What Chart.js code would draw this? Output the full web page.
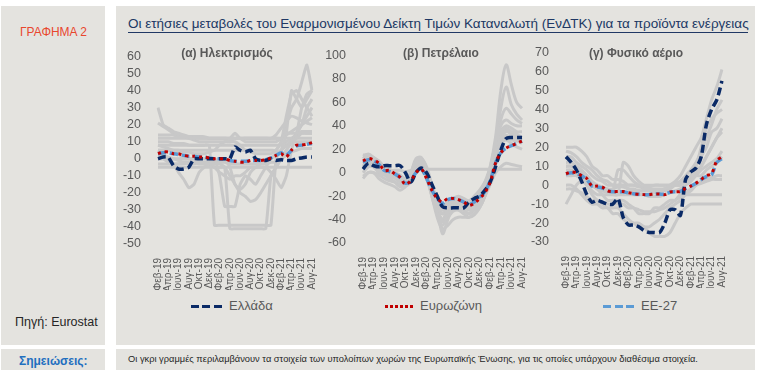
<!DOCTYPE html>
<html lang="el">
<head>
<meta charset="UTF-8" />
<title>ΓΡΑΦΗΜΑ 2</title>
<script src="https://cdn.jsdelivr.net/npm/chart.js"></script>
<style>
  body { margin: 0; background: #fff; font-family: "Liberation Sans", Arial, sans-serif; width: 760px; height: 370px; position: relative; overflow: hidden; }
  .box { position: absolute; background: #e4e3df; }
  .abs { position: absolute; white-space: nowrap; }
  canvas { position: absolute; }
  .sub { position: absolute; font-size: 12px; color: #595959; font-weight: bold; transform: translateX(-50%); white-space: nowrap; }
  .leg { position: absolute; font-size: 13px; color: #595959; white-space: nowrap; }
  .leg span { display: inline-block; vertical-align: middle; margin-right: 7px; }
</style>
</head>
<body>
  <div class="box" style="left:1px; top:6px; width:104px; height:339px;"></div>
  <div class="box" style="left:116px; top:6px; width:639px; height:339px;"></div>
  <div class="box" style="left:1px; top:349px; width:104px; height:21px;"></div>
  <div class="box" style="left:116px; top:349px; width:639px; height:21px;"></div>

  <div class="abs" style="left:20px; top:25px; font-size:12px; color:#e8472e;">ΓΡΑΦΗΜΑ 2</div>
  <div class="abs" style="left:15px; top:315px; font-size:12.5px; color:#262626;">Πηγή: Eurostat</div>
  <div class="abs" style="left:19px; top:354px; font-size:12px; font-weight:bold; color:#1f6fbf;">Σημειώσεις:</div>
  <div class="abs" style="left:128px; top:354px; font-size:9.3px; color:#262626;">Οι γκρι γραμμές  περιλαμβάνουν  τα στοιχεία των υπολοίπων  χωρών της Ευρωπαϊκής  Ένωσης, για τις οποίες υπάρχουν  διαθέσιμα στοιχεία.</div>

  <div class="abs" style="left:128px; top:16px; font-size:13.5px; color:#203864;">Οι ετήσιες μεταβολές του Εναρμονισμένου Δείκτη Τιμών  Καταναλωτή (ΕνΔΤΚ) για τα προϊόντα ενέργειας</div>
  <div class="abs" style="left:128px; top:32px; width:620px; height:1px; background:#203864;"></div>

  <canvas id="c1" width="210" height="250" style="left:120px; top:40px;"></canvas>
  <canvas id="c2" width="215" height="250" style="left:325px; top:39px;"></canvas>
  <canvas id="c3" width="212" height="252" style="left:528px; top:36px;"></canvas>

  <div class="sub" style="left:227px; top:46px;">(α) Ηλεκτρισμός</div>
  <div class="sub" style="left:441px; top:46px;">(β) Πετρέλαιο</div>
  <div class="sub" style="left:636px; top:46px;">(γ) Φυσικό αέριο</div>

  <div class="leg" style="left:191px; top:298px;"><span style="width:31px; height:3.5px; background:repeating-linear-gradient(90deg,#0a2a66 0 8px,transparent 8px 11.5px);"></span>Ελλάδα</div>
  <div class="leg" style="left:385px; top:298px;"><span style="width:28px; height:3px; background:repeating-linear-gradient(90deg,#c00000 0 3px,transparent 3px 5px);"></span>Ευρωζώνη</div>
  <div class="leg" style="left:603px; top:298px;"><span style="width:31px; height:3.5px; background:repeating-linear-gradient(90deg,#5b9bd5 0 8px,transparent 8px 11.5px);"></span>ΕΕ-27</div>

<script>
const months = ['Φεβ-19','Μαρ-19','Απρ-19','Μαϊ-19','Ιουν-19','Ιουλ-19','Αυγ-19','Σεπ-19','Οκτ-19','Νοε-19','Δεκ-19',
  'Ιαν-20','Φεβ-20','Μαρ-20','Απρ-20','Μαϊ-20','Ιουν-20','Ιουλ-20','Αυγ-20','Σεπ-20','Οκτ-20','Νοε-20','Δεκ-20',
  'Ιαν-21','Φεβ-21','Μαρ-21','Απρ-21','Μαϊ-21','Ιουν-21','Ιουλ-21','Αυγ-21'];

// (α) Ηλεκτρισμός
const elecGreece = [0,1,1,-4,-6,-6,-5,0,0,0,0,0,0,0,0,7,5,4,5,0,-1,-1,0,-1,-0.5,-1,-1,0,0.5,1,1];
const elecEuro   = [3,4,4,3,3,2,1.5,1.5,1,1,0.5,0,0,0,-1,-1.5,-2,-2,-1,-1,-1,-0.5,0.5,2,3,1,5,8,8,8.5,9.5];
const elecEU27   = [3,3.5,3.5,3,2.5,2,1.5,1.5,1,1,0.5,0,0,0,-1,-1.5,-1.5,-1.5,-1,-1,-1,-0.5,0.5,2,3.5,2,5,7.5,8,8.5,9];
const elecOthers = [
  [30,20,18,16,15,14,13,12,12,12,12,12,12,12,12,12,12,12,12,12,12,12,12,14,18,22,25,24,22,21,20],
  [21,19,17,15,14,13,12,11,10,10,10,10,10,10,10,12,12,10,10,10,10,10,10,10,12,15,15,15,16,16,16],
  [8,8,8,8,8,8,8,8,8,8,8,-39,-39,-39,-39,-39,-39,-39,-39,-39,-39,-39,-39,0,5,15,40,35,30,35,40],
  [0,0,-2,-3,-3,-3,-2,-2,-3,-3,-3,-3,-3,-5,-41,-41,-41,-41,-41,-41,-41,-41,-10,-5,0,5,10,12,15,15,15],
  [5,5,5,5,3,0,0,0,0,0,0,0,-10,-28,-28,-28,-15,-10,-12,-15,-10,-5,0,2,5,8,10,10,10,10,10],
  [5,5,5,5,5,5,5,5,5,5,5,5,5,5,5,5,5,5,5,5,5,5,5,5,10,20,30,35,45,55,40],
  [5,3,0,-3,-8,-12,-17,-15,-8,-5,-3,-5,-8,-10,-12,-10,-10,-8,-5,-5,-5,-5,-8,-12,-17,-10,5,15,20,25,30],
  [0,0,0,0,0,0,0,0,-2,-3,-3,-5,-5,-5,-10,-15,-20,-22,-25,-24,-20,-15,-10,-5,0,5,10,15,20,30,35],
  [12,12,12,12,12,12,12,12,12,12,12,12,12,12,12,15,12,12,12,12,12,12,12,12,12,12,12,12,12,12,12],
  [-5,-5,-5,-5,-5,-5,-5,-5,-5,-5,-5,-5,-5,-5,-5,-5,-5,-5,-5,-5,-5,-5,-5,-5,-5,-5,-5,-5,-5,-5,-5],
  [8,7,6,5,5,4,4,3,3,3,4,5,8,10,10,10,8,5,4,3,3,3,3,5,10,25,38,40,35,30,25],
  [2,2,1,0,-1,-2,-3,-3,-2,-2,-2,-1,0,0,-5,-15,-18,-15,-8,-5,-3,-2,0,3,5,8,10,15,30,38,40],
  [10,10,10,9,9,9,8,8,8,8,8,8,8,8,8,8,8,8,8,8,8,8,8,8,8,10,12,14,15,15,15],
  [-3,-3,-3,-3,-3,-2,-2,-2,-2,-2,-2,-2,-2,-2,-3,-3,-3,-3,-3,-3,-3,-3,-2,-2,0,2,4,5,6,6,6],
  [14,14,14,14,13,13,13,13,13,13,12,12,12,12,12,12,12,12,12,12,12,12,12,12,12,14,16,18,20,22,24]
];

// (β) Πετρέλαιο
const oilGreece = [3,8,6,5,6,6,6,6,0,-8,0,4,0,-10,-20,-29,-30,-30,-30,-30,-25,-22,-20,-15,-8,5,19,29,30,30,30];
const oilEuro   = [10,12,11,8,2,2,-1,-4,-10,-7,0,3,-5,-15,-22,-25,-22,-22,-23,-25,-28,-26,-22,-17,-8,8,17,21,23,25,27];
const oilEU27   = [9,11,10,7,2,1,-1,-4,-9,-7,0,3,-5,-15,-22,-26,-23,-22,-23,-25,-27,-25,-21,-16,-7,8,17,21,23,25,27];
const oilOthers = [
  [5,8,5,0,-2,-5,-8,-12,-10,-5,10,12,0,-20,-35,-45,-35,-30,-28,-30,-30,-25,-20,-10,5,30,70,92,75,60,55],
  [8,10,8,3,0,-3,-5,-8,-6,-3,8,10,0,-15,-30,-40,-30,-25,-25,-28,-30,-25,-18,-8,5,25,55,73,58,50,45],
  [12,15,12,8,5,2,0,-2,-5,0,12,13,3,-15,-30,-52,-40,-30,-28,-32,-35,-30,-25,-15,0,20,40,45,42,40,40],
  [5,7,6,4,3,2,2,2,1,2,3,3,3,3,3,3,3,3,3,3,3,3,3,3,3,3,3,3,3,3,3],
  [-5,0,0,-5,-8,-10,-12,-15,-12,-8,5,8,-3,-20,-38,-48,-45,-40,-38,-38,-38,-35,-30,-20,-5,15,35,38,35,33,30],
  [15,15,13,10,5,3,0,-3,-5,0,10,12,5,-10,-22,-28,-25,-22,-20,-22,-24,-20,-15,-8,0,15,30,35,33,30,28],
  [-3,0,0,-2,-5,-7,-8,-10,-8,-5,3,5,0,-12,-25,-35,-30,-28,-30,-32,-35,-32,-28,-20,-10,0,5,8,7,6,5],
  [8,10,8,5,2,0,-2,-5,-8,-3,8,10,0,-15,-28,-35,-32,-28,-27,-28,-30,-28,-22,-12,0,18,25,28,25,22,20],
  [12,14,12,9,4,2,0,-3,-8,-5,5,8,-2,-18,-30,-35,-30,-27,-25,-27,-30,-27,-22,-15,-3,15,35,40,38,35,35],
  [0,5,5,2,0,-2,-3,-5,-10,-8,2,5,-5,-20,-35,-42,-38,-33,-32,-35,-38,-36,-30,-20,-5,10,28,32,30,28,25],
  [10,12,10,6,3,0,-3,-6,-8,-4,7,10,-2,-16,-28,-32,-28,-25,-24,-26,-28,-25,-20,-12,0,15,28,30,28,27,26],
  [6,9,7,4,1,-1,-3,-5,-7,-3,6,9,-1,-14,-26,-30,-27,-24,-22,-24,-26,-23,-19,-11,1,16,32,36,33,31,30],
  [14,16,13,9,5,2,-1,-4,-7,-2,9,11,1,-17,-32,-40,-36,-32,-30,-30,-32,-30,-26,-17,-2,20,45,55,50,45,42]
];

// (γ) Φυσικό αέριο
const gasGreece = [15,12,8,2,-5,-9,-8,-9,-10,-10,-7,-17,-21,-21,-22,-24,-25,-25,-25,-20,-13,-13,-16,3,7,9,15,32,40,45,55];
const gasEuro   = [6,7,6.5,5,3.5,-0.5,-0.5,-1,-3,-3.4,-3.4,-3.4,-4,-4.5,-4.8,-5,-5,-4.7,-4.7,-5,-3.6,-3.5,-3.4,-1.7,-0.5,1,3,5,6,13,15];
const gasEU27   = [6,6.5,6,5,3,-0.5,-1,-1.5,-3,-3.5,-3.5,-3.5,-4,-4.5,-4.8,-5,-5,-4.7,-4.7,-4.8,-3.8,-3.5,-3.3,-1.8,-0.5,1,3,4.5,5.5,12,14];
const gasOthers = [
  [10,10,8,5,3,0,-2,-3,-4,-5,-5,-5,-5,-5,-5,-5,-5,-4,-3,-2,0,2,5,10,15,20,25,35,45,52,61],
  [15,15,12,10,8,5,3,2,0,0,0,0,-2,-3,-3,-3,-3,-3,-3,-2,-1,0,2,5,8,12,18,25,32,40,45],
  [20,20,20,18,15,10,8,5,5,3,3,2,0,0,0,-2,-2,-2,-2,-2,0,0,2,3,5,10,15,20,28,30,35],
  [5,5,5,3,0,-3,-5,-5,-5,-5,-5,12,10,5,2,0,0,0,0,0,0,0,0,2,5,8,10,15,20,25,28],
  [-10,-5,0,2,0,-5,-8,-10,-12,-12,-12,-15,-18,-20,-20,-22,-25,-27,-27,-27,-25,-20,-15,-12,-10,-10,-10,-10,-10,-10,-10],
  [12,12,10,8,5,0,-2,-5,-8,-8,-8,-8,-10,-12,-15,-15,-15,-12,-12,-10,-8,-8,-5,-5,-5,-5,-5,-5,-5,-5,-5],
  [8,8,6,5,3,0,0,-2,-3,-3,8,8,5,2,0,-2,-3,-3,-3,-3,-2,0,0,2,3,5,5,8,10,12,15],
  [0,0,-2,-5,-8,-10,-10,-12,-12,-15,-15,-18,-20,-20,-22,-22,-22,-20,-18,-15,-12,-10,-8,-5,-3,0,2,3,4,5,5],
  [18,17,15,12,10,8,5,3,2,0,0,0,0,0,-1,-1,-1,0,0,0,0,1,2,3,5,10,20,30,35,38,40],
  [5,6,5,4,2,0,-1,-2,-3,-4,-4,-4,-4,-5,-5,-5,-6,-6,-6,-5,-4,-3,-2,0,2,5,8,10,12,14,18],
  [10,10,9,7,5,2,0,-1,-2,-2,-1,-1,-2,-2,-3,-3,-3,-3,-3,-2,-1,0,1,2,3,6,10,15,20,25,30],
  [-2,-2,-3,-4,-6,-8,-8,-9,-10,-10,-10,-10,-12,-12,-13,-14,-14,-14,-13,-12,-10,-8,-6,-4,-2,0,1,2,3,3,3]
];

function makeChart(id, others, greece, euro, eu27, yMin, yMax, yStep, padRight, tension) {
  // the first dataset is painted last, so the three main series come first
  const datasets = [
    { data: euro, borderColor: '#c00000', borderWidth: 3, borderDash: [3, 4], pointRadius: 0, tension: tension },
    { data: greece, borderColor: '#0a2a66', borderWidth: 3.5, borderDash: [8, 4], pointRadius: 0, tension: tension },
    { data: eu27, borderColor: '#5b9bd5', borderWidth: 3.5, borderDash: [8, 4], pointRadius: 0, tension: tension }
  ];
  others.forEach(d => datasets.push({
    data: d, borderColor: '#c8c8c8', borderWidth: 3, pointRadius: 0, tension: tension
  }));

  return new Chart(document.getElementById(id), {
    type: 'line',
    data: { labels: months, datasets: datasets },
    options: {
      responsive: false,
      animation: false,
      layout: { padding: { top: 10, right: padRight, bottom: 0, left: 0 } },
      plugins: { legend: { display: false }, tooltip: { enabled: false } },
      scales: {
        x: {
          grid: { display: false },
          border: { display: false },
          afterFit: s => { s.height = 46; },
          ticks: {
            autoSkip: false, minRotation: 90, maxRotation: 90, padding: 6,
            color: '#595959', font: { family: 'Liberation Sans, Arial', size: 10 },
            callback: (v, i) => (i % 2 === 0 ? months[i] : '')
          }
        },
        y: {
          min: yMin, max: yMax,
          grid: { display: false },
          border: { display: false },
          afterFit: s => { s.width = 38; },
          ticks: {
            stepSize: yStep, padding: 9, autoSkip: false,
            color: '#595959', font: { family: 'Liberation Sans, Arial', size: 12.5 }
          }
        }
      }
    }
  });
}

makeChart('c1', elecOthers, elecGreece, elecEuro, elecEU27, -50, 60, 10, 6, 0.15);
makeChart('c2', oilOthers, oilGreece, oilEuro, oilEU27, -60, 100, 20, 10, 0.35);
makeChart('c3', gasOthers, gasGreece, gasEuro, gasEU27, -30, 70, 10, 6, 0.25);
</script>
</body>
</html>
